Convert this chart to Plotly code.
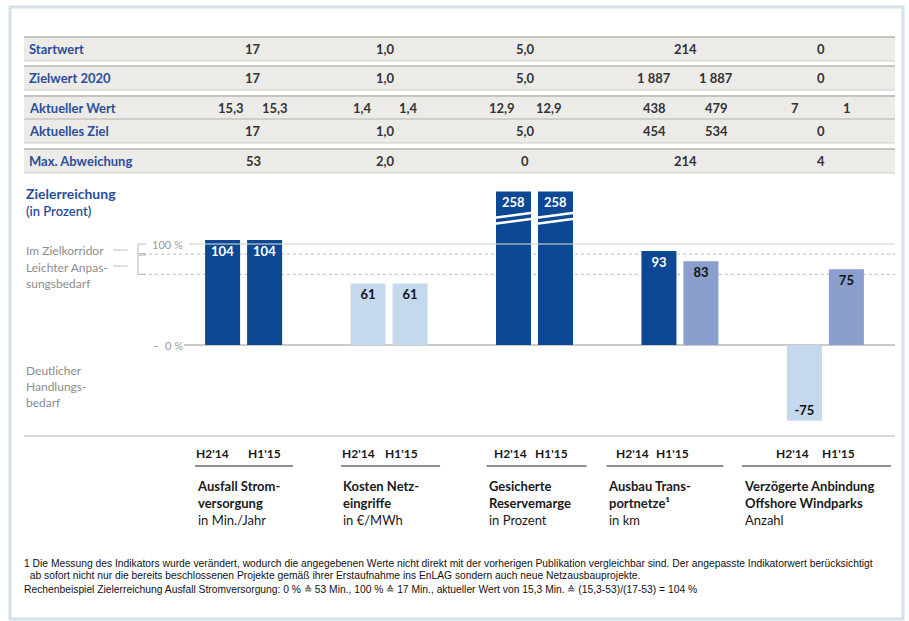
import plotly.graph_objects as go

# ---------------- data ----------------
categories = ["Ausfall Stromversorgung", "Kosten Netzeingriffe", "Gesicherte Reservemarge",
              "Ausbau Transportnetze", "Verzögerte Anbindung Offshore Windparks"]
periods = ["H2'14", "H1'15"]
h2_14 = [104, 61, 258, 93, -75]
h1_15 = [104, 61, 258, 83, 75]

cat_labels = [
    "<b>Ausfall Strom-<br>versorgung</b><br>in Min./Jahr",
    "<b>Kosten Netz-<br>eingriffe</b><br>in €/MWh",
    "<b>Gesicherte<br>Reservemarge</b><br>in Prozent",
    "<b>Ausbau Trans-<br>portnetze¹</b><br>in km",
    "<b>Verzögerte Anbindung<br>Offshore Windparks</b><br>Anzahl",
]

row_labels = ["Startwert", "Zielwert 2020", "Aktueller Wert", "Aktuelles Ziel", "Max. Abweichung"]
startwert = ["17", "1,0", "5,0", "214", "0"]
zielwert_2020 = ["17", "1,0", "5,0", ("1 887", "1 887"), "0"]
aktueller_wert = [("15,3", "15,3"), ("1,4", "1,4"), ("12,9", "12,9"), ("438", "479"), ("7", "1")]
aktuelles_ziel = ["17", "1,0", "5,0", ("454", "534"), "0"]
max_abweichung = ["53", "2,0", "0", "214", "4"]
table_rows = [startwert, zielwert_2020, aktueller_wert, aktuelles_ziel, max_abweichung]

corridor_levels = [100, 90, 70]   # Zielkorridor / Anpassungsbedarf thresholds
axis_cut = 152                    # bars above this are drawn broken

footnotes = [
    "1 Die Messung des Indikators wurde verändert, wodurch die angegebenen Werte nicht direkt mit der vorherigen Publikation vergleichbar sind. Der angepasste Indikatorwert berücksichtigt",
    "  ab sofort nicht nur die bereits beschlossenen Projekte gemäß ihrer Erstaufnahme ins EnLAG sondern auch neue Netzausbauprojekte.",
    "Rechenbeispiel Zielerreichung Ausfall Stromversorgung: 0 % ≙ 53 Min., 100 % ≙ 17 Min., aktueller Wert von 15,3 Min. ≙ (15,3-53)/(17-53) = 104 %",
]

# ---------------- styles / layout ----------------
W, H = 909, 621
FONT = "Lato, 'Open Sans', sans-serif"
DARK = "#0d4894"
LIGHT = "#c4d9ee"
MED = "#8a9fcd"
BLUE_TXT = "#2b4e9c"
GREY_TXT = "#8c8c8c"
h2_colors = [DARK, LIGHT, DARK, DARK, LIGHT]
h1_colors = [DARK, LIGHT, DARK, MED, MED]


def txtcol(c):
    return "white" if c == DARK else "#111111"


def px(x):
    return x / W


def py(y):
    return 1 - y / H


# y scale: zero at pixel 345, 1.01 px per percent
Y0_PX, PX_PER = 345, 1.01
Y_RANGE = [-90, 160]
y_dom = [py(Y0_PX - Y_RANGE[0] * PX_PER), py(Y0_PX - Y_RANGE[1] * PX_PER)]
# x scale (category index)
X_LEFT_PX, X_UNIT_PX = 243.6, 145.45
x_dom = [px(X_LEFT_PX - 0.5 * X_UNIT_PX), px(X_LEFT_PX + 4.5 * X_UNIT_PX)]
BAR_PX, PITCH_PX = 35, 42
bargap = 1 - 2 * PITCH_PX / X_UNIT_PX
bargroupgap = 1 - BAR_PX / PITCH_PX
slot = (1 - bargap) / 2
half_bar = BAR_PX / X_UNIT_PX / 2

fig = go.Figure()
for vals, cols, name in [(h2_14, h2_colors, periods[0]), (h1_15, h1_colors, periods[1])]:
    disp = [min(v, axis_cut) for v in vals]
    fig.add_trace(go.Bar(
        x=categories, y=disp, name=name,
        marker=dict(color=cols, line=dict(width=0)),
        text=[str(v) for v in vals], textposition="inside", insidetextanchor="end",
        textangle=0, constraintext="none",
        textfont=dict(family=FONT, size=13, color=[txtcol(c) for c in cols], weight="bold"),
        hoverinfo="skip",
    ))

shapes = []
ann = []

# outer frame
shapes.append(dict(type="rect", xref="paper", yref="paper", x0=px(10), x1=px(903), y0=py(619), y1=py(7),
                   line=dict(color="#d3e1ea", width=3), layer="below"))

# table bands
band_edges = [(37, 61, []), (66, 90, []), (96, 143, [119]), (149, 173, [])]
for top, bot, divs in band_edges:
    shapes.append(dict(type="rect", xref="paper", yref="paper", x0=px(24), x1=px(895), y0=py(bot), y1=py(top),
                       fillcolor="#ecebe8", line=dict(width=0), layer="below"))
    shapes.append(dict(type="line", xref="paper", yref="paper", x0=px(24), x1=px(895), y0=py(top), y1=py(top),
                       line=dict(color="#c6c4bf", width=2)))
    shapes.append(dict(type="line", xref="paper", yref="paper", x0=px(24), x1=px(895), y0=py(bot), y1=py(bot),
                       line=dict(color="#cfcdc8", width=1)))
    for d in divs:
        shapes.append(dict(type="line", xref="paper", yref="paper", x0=px(24), x1=px(895), y0=py(d), y1=py(d),
                           line=dict(color="#c6c4bf", width=1.5)))

row_y = [49, 78, 108, 131, 161]
col_x = [253, 385, 525, 685, 821]
pair_dx = [22, 23, 23.5, 31, 26]
for r, (lab, vals) in enumerate(zip(row_labels, table_rows)):
    ann.append(dict(x=px(27), y=py(row_y[r]), text=f"<b>{lab}</b>", xanchor="left", yanchor="middle",
                    font=dict(family=FONT, size=13, color=BLUE_TXT)))
    for c, v in enumerate(vals):
        if isinstance(v, tuple):
            for k, s in enumerate(v):
                xx = col_x[c] + (pair_dx[c] if k else -pair_dx[c])
                ann.append(dict(x=px(xx), y=py(row_y[r]), text=f"<b>{s}</b>", xanchor="center", yanchor="middle",
                                font=dict(family=FONT, size=13, color="#333333")))
        else:
            ann.append(dict(x=px(col_x[c]), y=py(row_y[r]), text=f"<b>{v}</b>", xanchor="center", yanchor="middle",
                            font=dict(family=FONT, size=13, color="#333333")))

# chart title
ann.append(dict(x=px(24), y=py(193), text="<b>Zielerreichung</b>", xanchor="left", yanchor="middle",
                font=dict(family=FONT, size=14, color=BLUE_TXT)))
ann.append(dict(x=px(24), y=py(211), text="(in Prozent)", xanchor="left", yanchor="middle",
                font=dict(family=FONT, size=13, color=BLUE_TXT, weight=600)))

# reference lines
shapes.append(dict(type="line", xref="paper", yref="y", x0=px(143), x1=px(895),
                   y0=corridor_levels[1], y1=corridor_levels[1], line=dict(color="#b9b9b9", width=1, dash="dot"), layer="below"))
shapes.append(dict(type="line", xref="paper", yref="y", x0=px(143), x1=px(895),
                   y0=corridor_levels[2], y1=corridor_levels[2], line=dict(color="#b9b9b9", width=1, dash="dot"), layer="below"))
shapes.append(dict(type="line", xref="paper", yref="y", x0=px(189), x1=px(895),
                   y0=corridor_levels[0], y1=corridor_levels[0], line=dict(color="rgba(215,211,206,0.55)", width=2), layer="above"))
shapes.append(dict(type="line", xref="paper", yref="y", x0=px(184), x1=px(895),
                   y0=0, y1=0, line=dict(color="#cdc9c4", width=2), layer="below"))

ann.append(dict(x=px(185), y=corridor_levels[0], yref="y", xref="paper", text="100 %", xanchor="right", yanchor="middle",
                font=dict(family=FONT, size=11, color="#9a9a9a")))
ann.append(dict(x=px(185), y=0, yref="y", xref="paper", text="–  0 %", xanchor="right", yanchor="middle",
                font=dict(family=FONT, size=11, color="#9a9a9a")))

# brackets
bk = "#c2c2c2"
shapes.append(dict(type="path", xref="paper", yref="y",
                   path=f"M {px(146)} {corridor_levels[0]} L {px(138)} {corridor_levels[0]} L {px(138)} {corridor_levels[1]+0.5} L {px(146)} {corridor_levels[1]+0.5}",
                   line=dict(color=bk, width=1.2)))
shapes.append(dict(type="path", xref="paper", yref="y",
                   path=f"M {px(146)} {corridor_levels[1]-1} L {px(138)} {corridor_levels[1]-1} L {px(138)} {corridor_levels[2]} L {px(146)} {corridor_levels[2]}",
                   line=dict(color=bk, width=1.2)))
for yy in (250, 266):
    shapes.append(dict(type="line", xref="paper", yref="paper", x0=px(113), x1=px(128), y0=py(yy), y1=py(yy),
                       line=dict(color="#c9c9c9", width=1.2)))

left_notes = [("Im Zielkorridor", 250), ("Leichter Anpas-", 267), ("sungsbedarf", 283),
              ("Deutlicher", 370), ("Handlungs-", 386), ("bedarf", 402)]
for t, yy in left_notes:
    ann.append(dict(x=px(24), y=py(yy), text=t, xanchor="left", yanchor="middle",
                    font=dict(family=FONT, size=12, color=GREY_TXT)))

# axis break marks on clipped bars
for g, (a, b) in enumerate(zip(h2_14, h1_15)):
    for k, v in enumerate((a, b)):
        if v > axis_cut:
            xc = g + (k - 0.5) * slot
            for off in (0, -6):
                shapes.append(dict(type="line", xref="x", yref="y",
                                   x0=xc - half_bar - 0.01, x1=xc + half_bar + 0.01,
                                   y0=axis_cut - 26 + off, y1=axis_cut - 21 + off,
                                   line=dict(color="white", width=2.5), layer="above"))

# bottom block
shapes.append(dict(type="line", xref="paper", yref="paper", x0=px(24), x1=px(895), y0=py(436), y1=py(436),
                   line=dict(color="#dad8d3", width=2)))
under = [(-48.5, 49.5), (-48, 51), (-48, 52), (-73.5, 43.5), (-83.5, 65.5)]
hoff = [(-31.5, 20.5), (-31, 12), (-24.5, 16.5), (-47, -7), (-32.5, 13.5)]
for g in range(len(categories)):
    gx = g  # category index on the x axis
    shapes.append(dict(type="line", xref="x", yref="paper", xsizemode="pixel", xanchor=gx,
                       x0=under[g][0], x1=under[g][1], y0=py(466), y1=py(466),
                       line=dict(color="#8f8f8f", width=2)))
    for k, p in enumerate(periods):
        ann.append(dict(x=gx, xref="x", xshift=hoff[g][k], y=py(453), text=f"<b>{p}</b>",
                        xanchor="center", yanchor="middle", font=dict(family=FONT, size=12, color="#1a1a1a")))
    ann.append(dict(x=gx, xref="x", xshift=under[g][0], y=py(476), text=cat_labels[g], align="left",
                    xanchor="left", yanchor="top", font=dict(family=FONT, size=13, color="#1a1a1a")))

for t, yy in zip(footnotes, (563, 575, 589)):
    ann.append(dict(x=px(22), y=py(yy), text=t, xanchor="left", yanchor="middle",
                    font=dict(family="'Liberation Sans', Arial, sans-serif", size=10.3, color="#111111")))

for a in ann:
    a.setdefault("xref", "paper")
    a.setdefault("yref", "paper")
    a["showarrow"] = False

fig.update_layout(
    width=W, height=H, margin=dict(l=0, r=0, t=0, b=0, pad=0),
    paper_bgcolor="white", plot_bgcolor="rgba(0,0,0,0)",
    barmode="group", bargap=bargap, bargroupgap=bargroupgap,
    showlegend=False,
    xaxis=dict(domain=x_dom, range=[-0.5, 4.5], visible=False, type="category", fixedrange=True),
    yaxis=dict(domain=y_dom, range=Y_RANGE, visible=False, fixedrange=True),
    shapes=shapes, annotations=ann,
)
fig.write_html("out.html", config={"displayModeBar": False})
